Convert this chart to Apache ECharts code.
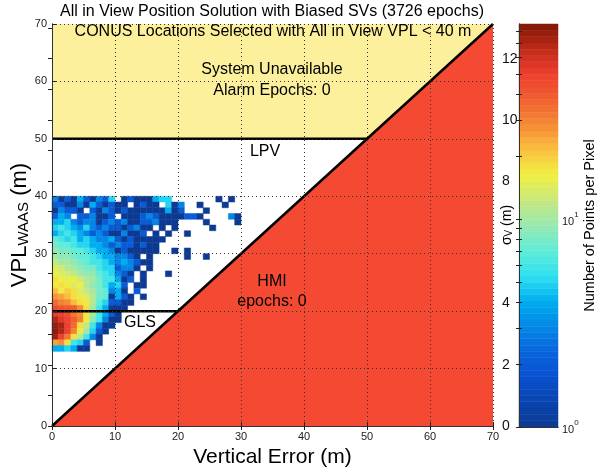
<!DOCTYPE html>
<html><head><meta charset="utf-8">
<script src="https://cdn.jsdelivr.net/npm/echarts@6/dist/echarts.min.js"></script>
<style>html,body{margin:0;padding:0;background:#fff}#c{width:597px;height:470px}</style>
</head><body><div id="c"></div>
<script>
// ---------- data ----------
const axisMax = 70;
const xTicks = [0,10,20,30,40,50,60,70];
const yTicks = [0,10,20,30,40,50,60,70];
const sigmaK = 5.33;
const sigmaLabels = [0,2,4,8,10,12];
const sigmaTicks = [0,1,2,3,4,5,6,7,8,9,10,11,12,13];
const yellowRegion = [[0,50],[50,50],[70,70],[0,70]];
const redRegion = [[0,0],[70,0],[70,70]];
const diagLine = [[0,0],[70,70]];
const lpvLine = [[0,50],[50,50]];
const glsLine = [[0,20],[20,20]];
const cbMaxCount = 87;
const cbTickCounts = [1,2,3,4,5,6,7,8,9,10,20,30,40,50,60,70,80];
const cbLabelCounts = [1,10];
// heat map: rows from y=39 (top) down to y=13, columns x=0..29, counts per 1m x 1m pixel
const heatTopY = 39;
const heatCounts = [
 [3,1,2,1,4,2,1,3,2,5,0,1,2,1,1,1,4,5,5,0,0,0,0,0,0,0,1,0,1,0],
 [2,2,1,1,3,1,4,2,1,2,1,1,0,1,2,1,1,0,5,1,3,0,0,1,0,0,0,1,0,0],
 [1,3,2,2,1,0,2,1,3,2,1,2,1,1,1,1,1,1,4,1,2,0,0,0,1,0,0,0,0,0],
 [2,4,3,0,2,2,3,1,1,2,0,1,1,1,2,3,2,1,1,1,1,2,2,1,0,0,0,0,3,1],
 [4,4,5,3,2,3,3,1,2,3,2,3,1,1,2,2,3,1,1,1,0,0,0,0,1,0,0,0,0,1],
 [5,6,5,4,3,5,3,2,3,2,2,1,2,3,1,1,0,1,0,1,0,0,0,0,0,1,0,0,0,0],
 [4,5,6,5,4,3,2,3,2,1,1,3,1,1,2,0,1,0,1,0,0,1,0,0,0,0,0,0,0,0],
 [7,6,5,6,4,5,4,3,3,4,2,1,2,1,1,1,1,1,0,0,0,0,0,0,0,0,0,0,0,0],
 [8,7,7,6,5,5,4,4,3,2,3,2,2,1,2,1,1,0,0,0,0,0,0,0,0,0,0,0,0,0],
 [9,8,8,7,7,6,5,4,4,3,1,2,1,1,1,1,1,0,0,1,0,1,0,0,0,0,0,0,0,0],
 [10,9,9,8,7,7,6,5,4,4,3,3,2,1,0,1,0,0,0,0,0,1,0,0,1,0,0,0,0,0],
 [12,10,10,9,8,7,6,6,5,4,3,4,3,2,1,1,0,0,0,0,0,0,0,0,0,0,0,0,0,0],
 [14,13,11,10,9,8,8,6,5,5,2,3,3,1,0,1,0,0,0,0,0,0,0,0,0,0,0,0,0,0],
 [16,14,13,12,10,9,9,7,6,5,3,2,1,0,1,0,0,0,1,0,0,0,0,0,0,0,0,0,0,0],
 [18,16,15,16,13,11,10,8,6,6,4,1,2,0,1,0,0,0,0,0,0,0,0,0,0,0,0,0,0,0],
 [17,18,17,14,16,11,9,8,6,4,5,2,0,1,1,0,0,0,0,0,0,0,0,0,0,0,0,0,0,0],
 [22,17,20,18,14,12,10,8,7,3,4,1,0,2,0,0,0,0,0,0,0,0,0,0,0,0,0,0,0,0],
 [27,25,22,18,17,14,11,8,7,1,4,2,1,0,1,0,0,0,0,0,0,0,0,0,0,0,0,0,0,0],
 [35,30,28,22,18,17,11,7,5,2,2,1,1,0,0,0,0,0,0,0,0,0,0,0,0,0,0,0,0,0],
 [45,42,40,38,28,18,10,6,4,1,1,1,0,0,0,0,0,0,0,0,0,0,0,0,0,0,0,0,0,0],
 [52,50,45,32,28,17,10,6,4,2,1,0,0,0,0,0,0,0,0,0,0,0,0,0,0,0,0,0,0,0],
 [70,55,48,38,30,17,9,6,3,1,1,0,0,0,0,0,0,0,0,0,0,0,0,0,0,0,0,0,0,0],
 [78,72,50,35,18,12,6,3,1,1,0,0,0,0,0,0,0,0,0,0,0,0,0,0,0,0,0,0,0,0],
 [82,70,50,30,17,10,5,2,1,0,0,0,0,0,0,0,0,0,0,0,0,0,0,0,0,0,0,0,0,0],
 [75,50,32,18,11,6,3,1,0,0,0,0,0,0,0,0,0,0,0,0,0,0,0,0,0,0,0,0,0,0],
 [25,28,18,6,5,2,0,1,0,0,0,0,0,0,0,0,0,0,0,0,0,0,0,0,0,0,0,0,0,0],
 [4,4,5,4,1,1,0,0,0,0,0,0,0,0,0,0,0,0,0,0,0,0,0,0,0,0,0,0,0,0]
];
// ---------- styling ----------
const FONT = '"Liberation Sans", Arial, Helvetica, sans-serif';
const jet = ['#0c3a92','#0a44b0','#0a50d0','#0866dc','#0488e6','#00aef0','#30e0f0','#60ecd8',
  '#98e8b0','#c8e880','#f0f040','#fbc040','#f48a34','#f06030','#ee4030','#c02a18','#801808'];
const yellow = '#fdf09d', red = '#f44a34';

const heatData = [];
heatCounts.forEach((row, r) => {
  row.forEach((c, x) => { if (c > 0) heatData.push([x, heatTopY - r, Math.log10(c)]); });
});
const cbMax = Math.log10(cbMaxCount);
const nBands = 64;
const cbData = [];
for (let i = 0; i < nBands; i++) {
  const lo = cbMax * i / nBands, hi = cbMax * (i + 1) / nBands;
  cbData.push([lo, hi, (lo + hi) / 2]);
}
const regions = [{pts: yellowRegion, color: yellow}, {pts: redRegion, color: red}];

const chart = echarts.init(document.getElementById('c'), null, {renderer: 'canvas'});
const tickStyle = {lineStyle: {color: '#222', width: 1}};
const axisLineStyle = {show: true, lineStyle: {color: '#333', width: 1}};
const gridLine = {show: true, lineStyle: {type: [1, 3], color: '#333', width: 1}};
const labelStyle = {color: '#222', fontSize: 11, fontFamily: FONT};
const txt = (x, y, s) => ({type: 'text', x: x, y: y, z: 20,
  style: {text: s, font: '16px ' + FONT, fill: '#000', align: 'center', verticalAlign: 'middle'}});

const option = {
  animation: false,
  backgroundColor: '#fff',
  grid: [
    {left: 52, top: 24, width: 441, height: 402, containLabel: false, outerBoundsMode: 'none'},
    {left: 519, top: 24, width: 39, height: 403, containLabel: false, outerBoundsMode: 'none'}
  ],
  xAxis: [
    {gridIndex: 0, type: 'value', min: 0, max: axisMax, position: 'bottom', z: 5,
     axisLine: axisLineStyle, splitLine: gridLine,
     axisTick: Object.assign({inside: true, length: 4, customValues: xTicks}, tickStyle),
     axisLabel: Object.assign({margin: 5, customValues: xTicks}, labelStyle),
     name: 'Vertical Error (m)', nameLocation: 'middle', nameGap: 21, nameMoveOverlap: false,
     nameTextStyle: {fontSize: 21, fontFamily: FONT, color: '#000', verticalAlign: 'top'}},
    {gridIndex: 0, type: 'value', min: 0, max: axisMax, position: 'top', z: 5,
     axisLine: axisLineStyle, splitLine: {show: false},
     axisTick: Object.assign({inside: true, length: 4, customValues: xTicks}, tickStyle),
     axisLabel: {show: false}},
    {gridIndex: 1, type: 'value', min: 0, max: 1, position: 'bottom', z: 5,
     axisLine: axisLineStyle, axisTick: {show: false}, axisLabel: {show: false}, splitLine: {show: false}},
    {gridIndex: 1, type: 'value', min: 0, max: 1, position: 'top', z: 5,
     axisLine: axisLineStyle, axisTick: {show: false}, axisLabel: {show: false}, splitLine: {show: false}}
  ],
  yAxis: [
    {gridIndex: 0, type: 'value', min: 0, max: axisMax, position: 'left', z: 5,
     axisLine: axisLineStyle, splitLine: gridLine,
     axisTick: Object.assign({inside: true, length: 4, customValues: yTicks}, tickStyle),
     axisLabel: Object.assign({margin: 5, customValues: yTicks}, labelStyle),
     name: '{a|VPL}{s|WAAS}{a| (m)}', nameLocation: 'middle', nameGap: 21, nameRotate: 90,
     nameMoveOverlap: false,
     nameTextStyle: {fontFamily: FONT, color: '#000', rich: {
       a: {fontSize: 22, lineHeight: 26, verticalAlign: 'bottom', fontFamily: FONT, color: '#000'},
       s: {fontSize: 15, lineHeight: 12, verticalAlign: 'bottom', fontFamily: FONT, color: '#000'}}}},
    {gridIndex: 0, type: 'value', min: 0, max: axisMax / sigmaK, position: 'right', z: 5,
     axisLine: axisLineStyle, splitLine: {show: false},
     axisTick: Object.assign({inside: true, length: 4, customValues: sigmaTicks}, tickStyle),
     axisLabel: {margin: 9, customValues: sigmaLabels, color: '#111', fontSize: 14, fontFamily: FONT},
     name: '{a|σ}{s|V}{a| (m)}', nameLocation: 'middle', nameGap: 5, nameRotate: 90,
     nameMoveOverlap: false,
     nameTextStyle: {fontFamily: FONT, color: '#000', rich: {
       a: {fontSize: 14, lineHeight: 16, verticalAlign: 'bottom', fontFamily: FONT, color: '#000'},
       s: {fontSize: 10, lineHeight: 8, verticalAlign: 'bottom', fontFamily: FONT, color: '#000'}}}},
    {gridIndex: 1, type: 'value', min: 0, max: cbMax, position: 'left', z: 5,
     axisLine: axisLineStyle, splitLine: {show: false},
     axisTick: Object.assign({inside: true, length: 3, customValues: cbTickCounts.map(Math.log10)}, tickStyle),
     axisLabel: {show: false}},
    {gridIndex: 1, type: 'value', min: 0, max: cbMax, position: 'right', z: 5,
     axisLine: axisLineStyle, splitLine: {show: false},
     axisTick: Object.assign({inside: true, length: 3, customValues: cbTickCounts.map(Math.log10)}, tickStyle),
     axisLabel: {margin: 4, customValues: cbLabelCounts.map(Math.log10),
       formatter: v => '{b|10}{p|' + Math.round(v) + '}',
       rich: {b: {fontSize: 11, lineHeight: 16, verticalAlign: 'bottom', fontFamily: FONT, color: '#222'},
              p: {fontSize: 8, lineHeight: 8, verticalAlign: 'top', fontFamily: FONT, color: '#222'}}},
     name: 'Number of Points per Pixel', nameLocation: 'middle', nameGap: 24, nameRotate: 90,
     nameMoveOverlap: false,
     nameTextStyle: {fontSize: 14.5, fontFamily: FONT, color: '#000'}}
  ],
  visualMap: {
    type: 'continuous', show: false, min: 0, max: cbMax, dimension: 2,
    seriesIndex: [1, 5], inRange: {color: jet}
  },
  series: [
    {type: 'custom', xAxisIndex: 0, yAxisIndex: 0, z: 1, data: [[0], [1]], silent: true,
     renderItem: (params, api) => {
       const reg = regions[params.dataIndex];
       return {type: 'polygon', shape: {points: reg.pts.map(p => api.coord(p))},
               style: {fill: reg.color}};
     }},
    {type: 'custom', xAxisIndex: 0, yAxisIndex: 0, z: 2, data: heatData,
     dimensions: ['x', 'y', 'v'], encode: {x: 0, y: 1},
     renderItem: (params, api) => {
       const x = api.value(0), y = api.value(1);
       const p0 = api.coord([x, y + 1]), p1 = api.coord([x + 1, y]);
       const col = api.visual('color');
       return {type: 'rect', shape: {x: p0[0], y: p0[1], width: p1[0] - p0[0], height: p1[1] - p0[1]},
               style: {fill: col, stroke: col, lineWidth: 0.5}};
     }},
    {type: 'line', xAxisIndex: 0, yAxisIndex: 0, z: 3, data: diagLine, symbol: 'none',
     lineStyle: {color: '#000', width: 2.5}},
    {type: 'line', xAxisIndex: 0, yAxisIndex: 0, z: 3, data: lpvLine, symbol: 'none',
     lineStyle: {color: '#000', width: 2.5}},
    {type: 'line', xAxisIndex: 0, yAxisIndex: 0, z: 3, data: glsLine, symbol: 'none',
     lineStyle: {color: '#000', width: 2.5}},
    {type: 'custom', xAxisIndex: 2, yAxisIndex: 2, z: 2, data: cbData,
     dimensions: ['lo', 'hi', 'v'], encode: {y: [0, 1]},
     renderItem: (params, api) => {
       const lo = api.value(0), hi = api.value(1);
       const p0 = api.coord([0, hi]), p1 = api.coord([1, lo]);
       const col = api.visual('color');
       return {type: 'rect', shape: {x: p0[0], y: p0[1], width: p1[0] - p0[0], height: p1[1] - p0[1]},
               style: {fill: col, stroke: col, lineWidth: 0.5}};
     }}
  ],
  graphic: [
    txt(272, 12, 'All in View Position Solution with Biased SVs (3726 epochs)'),
    txt(273, 32, 'CONUS Locations Selected with All in View VPL < 40 m'),
    txt(272, 70, 'System Unavailable'),
    txt(272, 91, 'Alarm Epochs: 0'),
    txt(265, 152, 'LPV'),
    txt(272, 282, 'HMI'),
    txt(272, 302, 'epochs: 0'),
    txt(140, 323, 'GLS')
  ]
};
chart.setOption(option);
</script></body></html>
